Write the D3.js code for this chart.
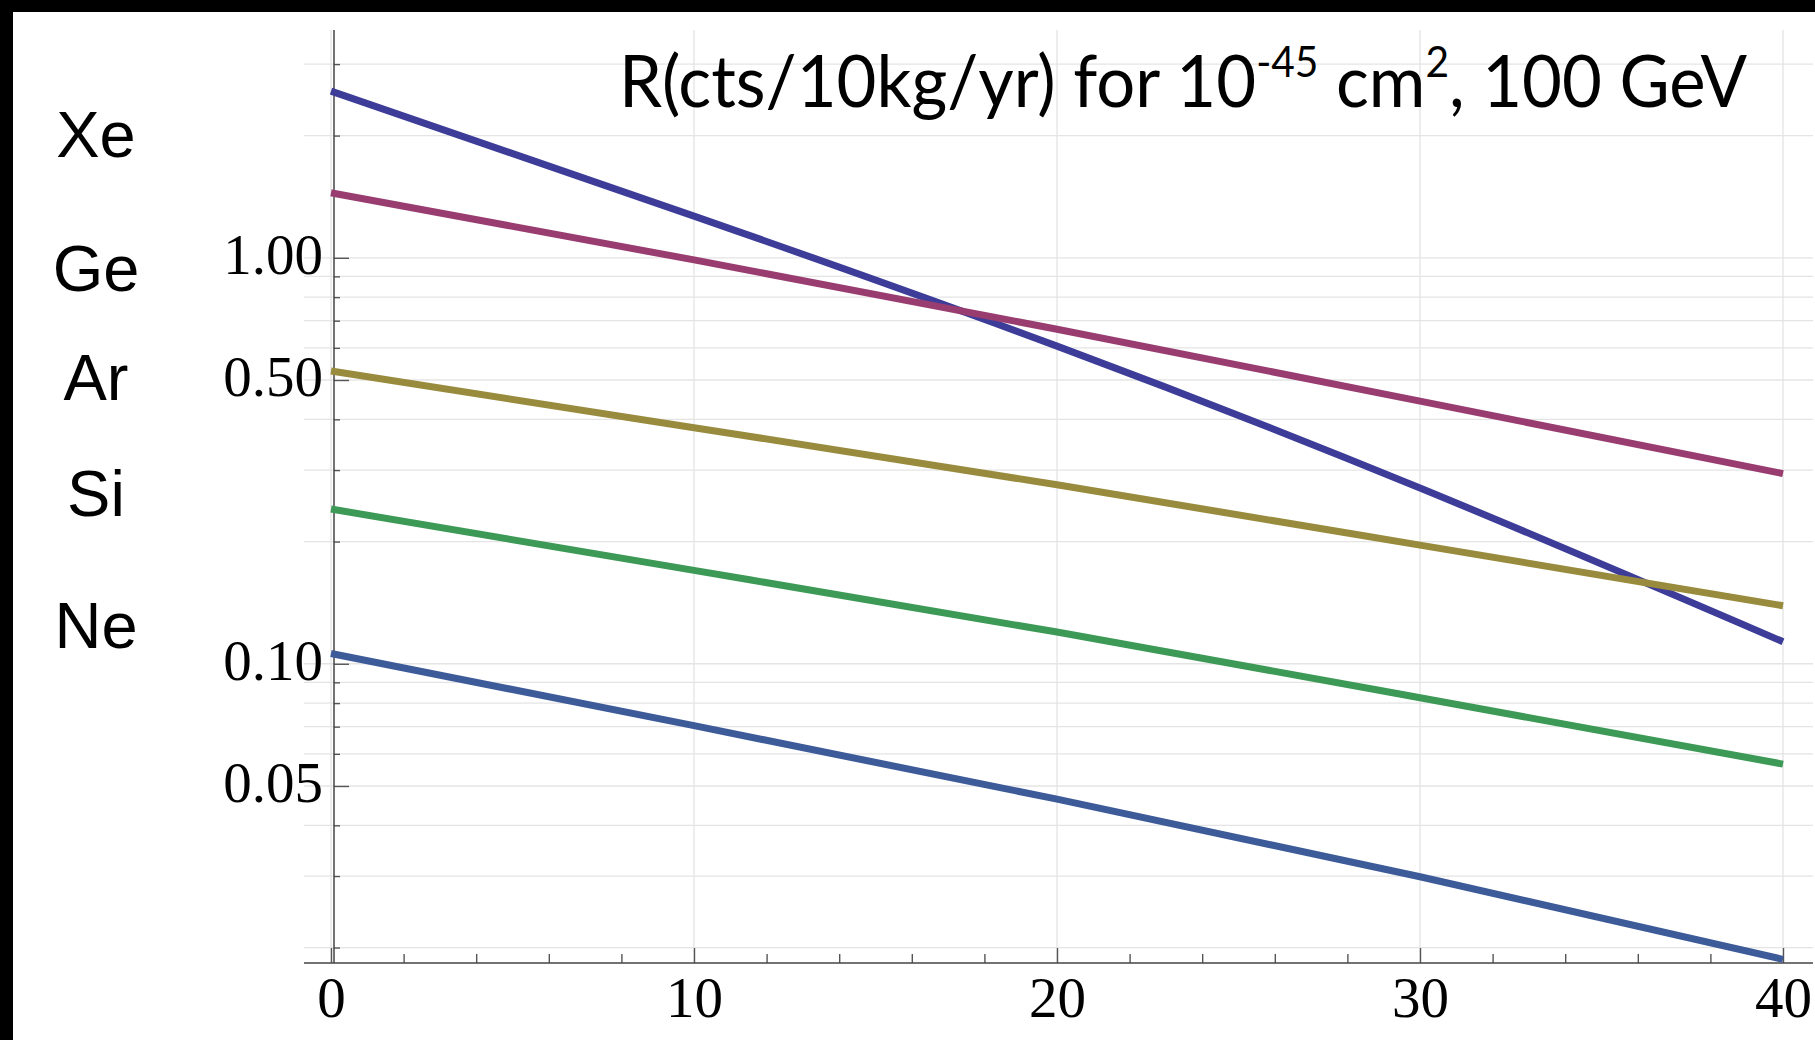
<!DOCTYPE html>
<html>
<head>
<meta charset="utf-8">
<script src="https://cdn.jsdelivr.net/npm/d3@7"></script>
<style>
  html, body { margin: 0; padding: 0; background: #fff; }
  svg { display: block; }
</style>
</head>
<body>
<svg id="chart" width="1815" height="1040"></svg>
<script>
// ---------------- data ----------------
const elements = ["Xe", "Ge", "Ar", "Si", "Ne"];
const xValues  = [0, 10, 20, 30, 40];
const rateXe   = [2.574, 1.267, 0.606, 0.271, 0.1133];
const rateGe   = [1.446, 0.988, 0.667, 0.4436, 0.294];
const rateAr   = [0.526, 0.3815, 0.276, 0.196, 0.139];
const rateSi   = [0.2405, 0.1698, 0.1197, 0.0825, 0.0566];
const rateNe   = [0.106, 0.0704, 0.0464, 0.02988, 0.0187];
const colors   = ["#3d3d99", "#993d71", "#998b3d", "#3d9956", "#3d5a99"];
const xMajorTicks = [0, 10, 20, 30, 40];
const xMinorTicks = [2, 4, 6, 8, 12, 14, 16, 18, 22, 24, 26, 28, 32, 34, 36, 38];
const yMajorTicks = [0.05, 0.1, 0.5, 1];
const yMinorTicks = [0.02, 0.03, 0.04, 0.06, 0.07, 0.08, 0.09, 0.2, 0.3, 0.4, 0.6, 0.7, 0.8, 0.9, 2, 3];
const yDomain = [0.01832, 3.64];
const xDomain = [0, 40];

const rates = [rateXe, rateGe, rateAr, rateSi, rateNe];
const series = elements.map((name, i) => ({
  name, color: colors[i],
  points: xValues.map((x, j) => ({ x, y: rates[i][j] }))
}));

// ---------------- layout ----------------
const svg = d3.select("#chart");
const W = 1815, H = 1040;
const x = d3.scaleLinear().domain(xDomain).range([331, 1783]);
const y = d3.scaleLog().domain(yDomain).range([963, 30]);
const axisX = 334;       // y-axis position
const gridLeft = 304, gridRight = 1813;

svg.append("rect").attr("width", W).attr("height", H).attr("fill", "#fff");

// gridlines
const grid = svg.append("g").attr("stroke", "#e4e4e4").attr("stroke-width", 1.3);
grid.selectAll("line.h").data(yMajorTicks.concat(yMinorTicks)).join("line")
  .attr("x1", gridLeft).attr("x2", gridRight)
  .attr("y1", d => y(d)).attr("y2", d => y(d));
grid.selectAll("line.v").data(xMajorTicks).join("line")
  .attr("x1", d => x(d)).attr("x2", d => x(d))
  .attr("y1", 30).attr("y2", 963);

// title
const title = svg.append("text")
  .attr("x", 619).attr("y", 107)
  .attr("font-family", "Lato, 'Open Sans', sans-serif")
  .attr("font-size", 71)
  .attr("fill", "#000");
title.append("tspan").text("R(cts/10kg/yr) for 10");
title.append("tspan").attr("font-size", 42).attr("dy", -30).text("-45");
title.append("tspan").attr("dy", 30).text(" cm");
title.append("tspan").attr("font-size", 42).attr("dy", -30).text("2");
title.append("tspan").attr("dy", 30).text(", 100 GeV");
title.attr("textLength", 1128).attr("lengthAdjust", "spacingAndGlyphs");

// axes
const serif = "'Liberation Serif', 'Times New Roman', serif";
const yAxisMajor = d3.axisLeft(y).tickValues(yMajorTicks).tickFormat(d3.format(".2f"))
  .tickSize(-15).tickPadding(11);
const yAxisMinor = d3.axisLeft(y).tickValues(yMinorTicks).tickFormat("").tickSize(-6);
const xAxisMajor = d3.axisBottom(x).tickValues(xMajorTicks).tickFormat(d3.format("d"))
  .tickSize(-15).tickPadding(14);
const xAxisMinor = d3.axisBottom(x).tickValues(xMinorTicks).tickFormat("").tickSize(-9);

function styleAxis(g) {
  g.select(".domain").remove();
  g.selectAll("line").attr("stroke", "#555").attr("stroke-width", 1.4);
  g.selectAll("text").attr("font-family", serif).attr("font-size", 57).attr("fill", "#000");
}

svg.append("g").attr("transform", `translate(${axisX},0)`).call(yAxisMinor).call(styleAxis);
const ya = svg.append("g").attr("transform", `translate(${axisX},0)`).call(yAxisMajor).call(styleAxis);
ya.selectAll("text").attr("dy", "0.27em");
svg.append("g").attr("transform", `translate(0,963)`).call(xAxisMinor).call(styleAxis);
svg.append("g").attr("transform", `translate(0,963)`).call(xAxisMajor).call(styleAxis);

// axis lines
svg.append("line").attr("x1", axisX).attr("x2", axisX).attr("y1", 30).attr("y2", 963)
  .attr("stroke", "#444").attr("stroke-width", 1.5);
svg.append("line").attr("x1", gridLeft).attr("x2", gridRight).attr("y1", 963).attr("y2", 963)
  .attr("stroke", "#444").attr("stroke-width", 1.5);

// series lines
const line = d3.line().x(d => x(d.x)).y(d => y(d.y)).curve(d3.curveNatural);
svg.append("g").selectAll("path").data(series).join("path")
  .attr("d", d => line(d.points))
  .attr("fill", "none")
  .attr("stroke", d => d.color)
  .attr("stroke-width", 7);

// element labels on the left
const labelBaselines = [157, 291, 400, 516, 648];
svg.append("g").selectAll("text").data(elements).join("text")
  .attr("x", 96).attr("y", (d, i) => labelBaselines[i])
  .attr("text-anchor", "middle")
  .attr("font-family", "'Liberation Sans', Arial, sans-serif")
  .attr("font-size", 65)
  .attr("fill", "#000")
  .text(d => d);

// black frame edges
svg.append("rect").attr("x", 0).attr("y", 0).attr("width", W).attr("height", 12).attr("fill", "#000");
svg.append("rect").attr("x", 0).attr("y", 0).attr("width", 13).attr("height", H).attr("fill", "#000");
</script>
</body>
</html>
